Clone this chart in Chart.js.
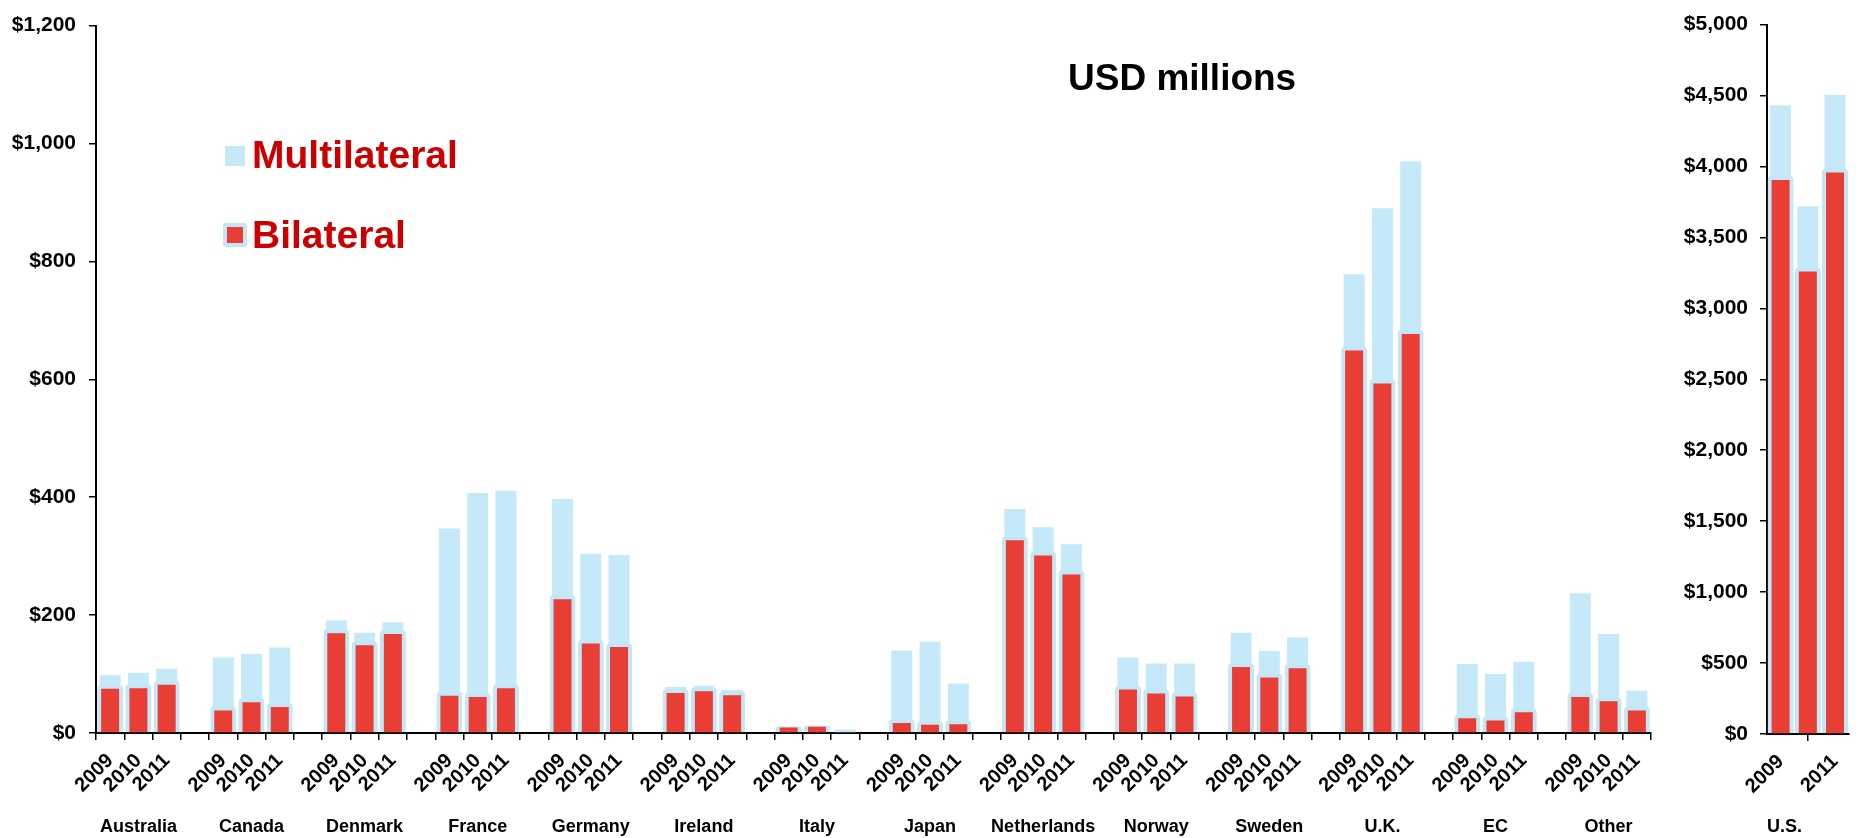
<!DOCTYPE html>
<html>
<head>
<meta charset="utf-8">
<script src="https://cdn.jsdelivr.net/npm/chart.js"></script>
<style>
  html, body { margin:0; padding:0; background:#fff; width:1862px; height:838px; overflow:hidden;
    font-family:"Liberation Sans", Arial, sans-serif; }
  #left { position:absolute; left:0; top:0; width:1680px; height:838px; }
  #right { position:absolute; left:1680px; top:0; width:182px; height:838px; }
  #title { position:absolute; left:1068px; top:59px; font-weight:bold; font-size:37px; line-height:1; color:#000; white-space:nowrap; }
  .legtext { position:absolute; left:252px; font-weight:bold; font-size:39px; line-height:1; color:#CC0000; white-space:nowrap; }
  .legbox { position:absolute; box-sizing:border-box; }
</style>
</head>
<body>
<div id="left"><canvas id="cL"></canvas></div>
<div id="right"><canvas id="cR"></canvas></div>
<div id="title"></div>
<div id="legend"></div>
<script>
// ---------- data ----------
const chartTitle = 'USD millions';
const seriesNames = ['Multilateral', 'Bilateral'];
const countries = ['Australia','Canada','Denmark','France','Germany','Ireland','Italy','Japan','Netherlands','Norway','Sweden','U.K.','EC','Other'];
const years = ['2009','2010','2011'];
// bilateral (red) values, 3 years per country, in country order
const bilateral = [
  75, 76, 82,     // Australia
  38, 52, 44,     // Canada
  169, 149, 168,  // Denmark
  63, 61, 76,     // France
  227, 152, 146,  // Germany
  68, 71, 64,     // Ireland
  4, 6, null,     // Italy
  17, 13, 15,     // Japan
  327, 301, 269,  // Netherlands
  74, 67, 62,     // Norway
  112, 94, 110,   // Sweden
  649, 593, 677,  // U.K.
  25, 21, 35,     // EC
  61, 54, 38      // Other
];
// multilateral (light blue) values, stacked on top of bilateral
const multilateral = [
  23, 26, 27,
  90, 82, 101,
  22, 21, 20,
  284, 346, 335,
  170, 152, 156,
  10, 9, 9,
  7, 6, 6,
  123, 142, 69,
  53, 48, 51,
  54, 51, 56,
  58, 45, 52,
  129, 297, 293,
  92, 79, 86,
  176, 114, 34
];
const usLabel = 'U.S.';
const usBilateral = [3904, 3259, 3958];
const usMultilateral = [527, 460, 545];
const leftAxis = { min: 0, max: 1200, step: 200 };
const rightAxis = { min: 0, max: 5000, step: 500 };

// ---------- styles ----------
const RED = '#E83E36';
const BLUE = '#C6E9F9';
const HALO = '#C4E7F8';
const FAM = '"Liberation Sans", Arial, sans-serif';
const font = (s, lh) => ({ family: FAM, size: s, weight: 'bold', lineHeight: lh || 1.2 });
const money = v => '$' + Number(v).toLocaleString('en-US');

// ---------- HTML title & legend ----------
document.getElementById('title').textContent = chartTitle;
const leg = document.getElementById('legend');
function addLegend(name, top, boxCss) {
  const t = document.createElement('div');
  t.className = 'legtext'; t.style.top = top + 'px'; t.textContent = name;
  leg.appendChild(t);
  const b = document.createElement('div');
  b.className = 'legbox'; Object.assign(b.style, boxCss);
  leg.appendChild(b);
}
addLegend(seriesNames[0], 135, { left:'225px', top:'146px', width:'20px', height:'20px', background: BLUE });
addLegend(seriesNames[1], 215, { left:'223px', top:'223px', width:'24px', height:'24px', background: RED, border:'4px solid ' + HALO, borderRadius:'3px' });

// ---------- build slots (3 years + gap per country) ----------
const slotLabels = [], bilSlots = [], mulSlots = [], slotCountry = [];
countries.forEach((c, g) => {
  years.forEach((y, k) => {
    slotLabels.push(y);
    bilSlots.push(bilateral[g * 3 + k]);
    mulSlots.push(multilateral[g * 3 + k]);
    slotCountry.push(k === 1 ? c : '');
  });
  if (g < countries.length - 1) {
    slotLabels.push(''); bilSlots.push(null); mulSlots.push(null); slotCountry.push('');
  }
});

function bilDataset(data) {
  return {
    label: seriesNames[1], data,
    backgroundColor: RED, borderColor: HALO,
    borderWidth: { top: 4, left: 4, right: 4, bottom: 0 },
    borderSkipped: 'bottom',
    borderRadius: { topLeft: 4, topRight: 4, bottomLeft: 0, bottomRight: 0 },
    inflateAmount: 4, barThickness: 18,
    clip: { left: 30, right: 30, top: 30, bottom: 0 }
  };
}
function mulDataset(data) {
  return { label: seriesNames[0], data, backgroundColor: BLUE, borderWidth: 0, inflateAmount: 0, barThickness: 21 };
}

const gridTicks = { offset: true, drawOnChartArea: false, drawTicks: true, tickLength: 7, color: '#000', lineWidth: 1.5 };

Chart.defaults.font.family = FAM;

new Chart(document.getElementById('cL'), {
  type: 'bar',
  data: { labels: slotLabels, datasets: [bilDataset(bilSlots), mulDataset(mulSlots)] },
  options: {
    responsive: true, maintainAspectRatio: false, animation: false,
    layout: { padding: { top: 19, right: 29, left: 0, bottom: 0 } },
    plugins: { legend: { display: false }, tooltip: { enabled: false } },
    scales: {
      x: {
        stacked: true, weight: 0, z: 1,
        grid: gridTicks,
        border: { display: true, color: '#000', width: 2 },
        ticks: { autoSkip: false, maxRotation: 45, minRotation: 45, padding: 9, color: '#000', font: font(20) },
        afterFit: s => { s.height = 72; }
      },
      x2: {
        type: 'category', position: 'bottom', weight: 1, offset: true,
        grid: { display: false, drawTicks: false, tickLength: 0 }, border: { display: false },
        ticks: { autoSkip: false, maxRotation: 0, minRotation: 0, padding: 11, color: '#000', font: font(18),
                 callback: (v, i) => slotCountry[i] },
        afterFit: s => { s.height = 33; }
      },
      y: {
        stacked: true, min: leftAxis.min, max: leftAxis.max,
        grid: { drawOnChartArea: false, drawTicks: true, tickLength: 7, color: '#000', lineWidth: 1.5 },
        border: { display: true, color: '#000', width: 2 },
        ticks: { stepSize: leftAxis.step, padding: 13, color: '#000', font: font(21), callback: v => money(v) },
        afterFit: s => { s.width = 96; }
      }
    }
  }
});

new Chart(document.getElementById('cR'), {
  type: 'bar',
  data: { labels: years, datasets: [bilDataset(usBilateral), mulDataset(usMultilateral)] },
  options: {
    responsive: true, maintainAspectRatio: false, animation: false,
    layout: { padding: { top: 16, right: 6, left: 0, bottom: 0 } },
    plugins: { legend: { display: false }, tooltip: { enabled: false } },
    scales: {
      x: {
        stacked: true, z: 1,
        grid: gridTicks,
        border: { display: true, color: '#000', width: 2 },
        ticks: { autoSkip: true, autoSkipPadding: 3, maxRotation: 45, minRotation: 45, padding: 9, color: '#000', font: font(20) },
        title: { display: true, text: usLabel, align: 'start', color: '#000', font: font(18, 1), padding: { top: 0, bottom: 2 } },
        afterFit: s => { s.height = 104; }
      },
      y: {
        stacked: true, min: rightAxis.min, max: rightAxis.max,
        grid: { drawOnChartArea: false, drawTicks: true, tickLength: 7, color: '#000', lineWidth: 1.5 },
        border: { display: true, color: '#000', width: 2 },
        ticks: { stepSize: rightAxis.step, padding: 12, color: '#000', font: font(21), callback: v => money(v) },
        afterFit: s => { s.width = 87; }
      }
    }
  }
});
</script>
</body>
</html>
